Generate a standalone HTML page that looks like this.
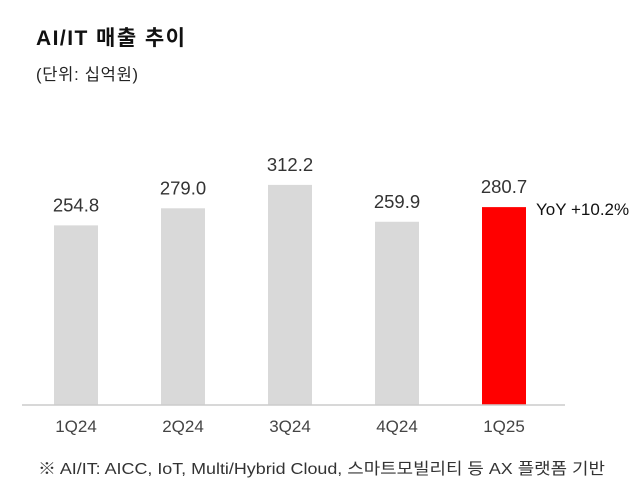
<!DOCTYPE html>
<html><head><meta charset="utf-8"><style>
body{margin:0;background:#fff;width:643px;height:490px;overflow:hidden;font-family:"Liberation Sans","Noto Sans CJK KR",sans-serif}
</style></head><body>
<svg width="643" height="490">
<text x="36" y="45" font-size="21" font-weight="bold" fill="#111" font-family="Liberation Sans, Noto Sans CJK KR, sans-serif" textLength="149">AI/IT 매출 추이</text>
<text x="36" y="80" font-size="16.5" fill="#222" font-family="Liberation Sans, Noto Sans CJK KR, sans-serif" textLength="102">(단위: 십억원)</text>
<g id="bars"></g>
<line x1="22" y1="405" x2="565" y2="405" stroke="#ccc" stroke-width="1.5"/>
<text x="38" y="474" font-size="16" fill="#333" font-family="Liberation Sans, Noto Sans CJK KR, sans-serif" textLength="567" lengthAdjust="spacingAndGlyphs">※ AI/IT: AICC, IoT, Multi/Hybrid Cloud, 스마트모빌리티 등 AX 플랫폼 기반</text>
</svg>
<script>
const categories=["1Q24","2Q24","3Q24","4Q24","1Q25"];
const values=[254.8,279.0,312.2,259.9,280.7];
const valueLabels=["254.8","279.0","312.2","259.9","280.7"];
const yoyLabel="YoY +10.2%";
const ns="http://www.w3.org/2000/svg";
const g=document.getElementById("bars");
const base=405,scale=0.705,x0=76,step=107,bw=44;
function y(v){return base-v*scale;}
function mk(t,a){const e=document.createElementNS(ns,t);for(const k in a)e.setAttribute(k,a[k]);g.appendChild(e);return e;}
categories.forEach((c,i)=>{
 const cx=x0+i*step,last=i===categories.length-1;
 const r=mk("rect",{x:cx-bw/2,y:y(values[i]),width:bw,height:base-y(values[i]),fill:last?"#ff0000":"#d9d9d9"});
 
 
 const t=mk("text",{x:cx,y:y(values[i])-14,"text-anchor":"middle","font-size":"18.5",fill:"#333"});
 t.textContent=valueLabels[i];
 
 
 const l=mk("text",{x:cx,y:432,"text-anchor":"middle","font-size":"17",fill:"#444"});
 l.textContent=c;
 
 
 if(last){
  const yo=mk("text",{x:cx+bw/2+10,y:y(values[i])+8,"font-size":"17",fill:"#111"});
  yo.textContent=yoyLabel;
  
  
 }
});
</script>
</body></html>
